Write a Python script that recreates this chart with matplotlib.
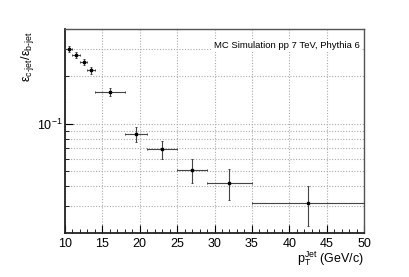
import numpy as np
import matplotlib
matplotlib.use("Agg")
from matplotlib import pyplot as plt
from matplotlib import ticker

plt.rcParams['font.family'] = ['Liberation Sans', 'DejaVu Sans']
plt.rcParams['mathtext.fontset'] = 'custom'
plt.rcParams['mathtext.rm'] = 'Liberation Sans'
plt.rcParams['mathtext.default'] = 'regular'

# pT bins of the jets (GeV/c)
bin_lo = [10, 11, 12, 13, 14, 18, 21, 25, 29, 35]
bin_hi = [11, 12, 13, 14, 18, 21, 25, 29, 35, 50]
# c-jet / b-jet tagging efficiency ratio and its error
eff_ratio = [0.297, 0.275, 0.247, 0.218, 0.159, 0.0857, 0.0689, 0.0509, 0.042, 0.0313]
eff_err = [0.013, 0.012, 0.011, 0.010, 0.009, 0.0094, 0.0088, 0.0092, 0.0092, 0.009]

bin_lo = np.array(bin_lo)
bin_hi = np.array(bin_hi)
pt = (bin_lo + bin_hi) / 2.0
pt_err = (bin_hi - bin_lo) / 2.0

fig = plt.figure(figsize=(4.09, 2.77), dpi=100)
ax = fig.add_axes([65/409, 1 - 233/277, 299/409, 204/277])

ax.errorbar(pt, eff_ratio, xerr=pt_err, yerr=eff_err, fmt='s', ms=1.8,
            color='black', ecolor='#444444', elinewidth=0.8, capsize=1.0,
            capthick=0.7, zorder=3)

ax.set_yscale('log')
ax.set_xlim(10, 50)
ax.set_ylim(0.0202, 0.40)

ax.xaxis.set_major_locator(ticker.MultipleLocator(5))
ax.xaxis.set_minor_locator(ticker.MultipleLocator(1))
ax.yaxis.set_major_locator(ticker.LogLocator(base=10))
ax.yaxis.set_minor_locator(ticker.LogLocator(base=10, subs=np.arange(2, 10)))
ax.yaxis.set_minor_formatter(ticker.NullFormatter())

ax.tick_params(which='both', direction='in', top=False, right=False, labelsize=9)
ax.tick_params(axis='x', which='major', length=6, pad=3.5)
ax.tick_params(axis='x', which='minor', length=3)
ax.tick_params(axis='y', which='major', length=6, pad=2)
ax.tick_params(axis='y', which='minor', length=3)

ax.grid(True, axis='x', which='major', color='#aaaaaa', ls=(0, (1, 1.5)), lw=0.8)
ax.grid(True, axis='y', which='both', color='#aaaaaa', ls=(0, (1, 1.5)), lw=0.8)
ax.set_axisbelow(True)

for side in ['left', 'bottom']:
    ax.spines[side].set_linewidth(1.3)
    ax.spines[side].set_color('#222222')
for side in ['top', 'right']:
    ax.spines[side].set_linewidth(1.0)
    ax.spines[side].set_color('#555555')

ax.text(0.985, 0.92, "MC Simulation pp 7 TeV, Phythia 6", transform=ax.transAxes,
        ha='right', va='center', fontsize=6.8,
        bbox=dict(facecolor='white', edgecolor='none', pad=1.5))

fig.text(364/409, 1 - 259/277, r"p$_{T}^{Jet}$ (GeV/c)", ha='right', va='center', fontsize=9)
fig.text(27/409, 1 - 31/277, r"ε$_{c\text{-}jet}$/ε$_{b\text{-}jet}$", rotation=90,
         ha='center', va='top', fontsize=9)

fig.savefig("out.png", dpi=100)
